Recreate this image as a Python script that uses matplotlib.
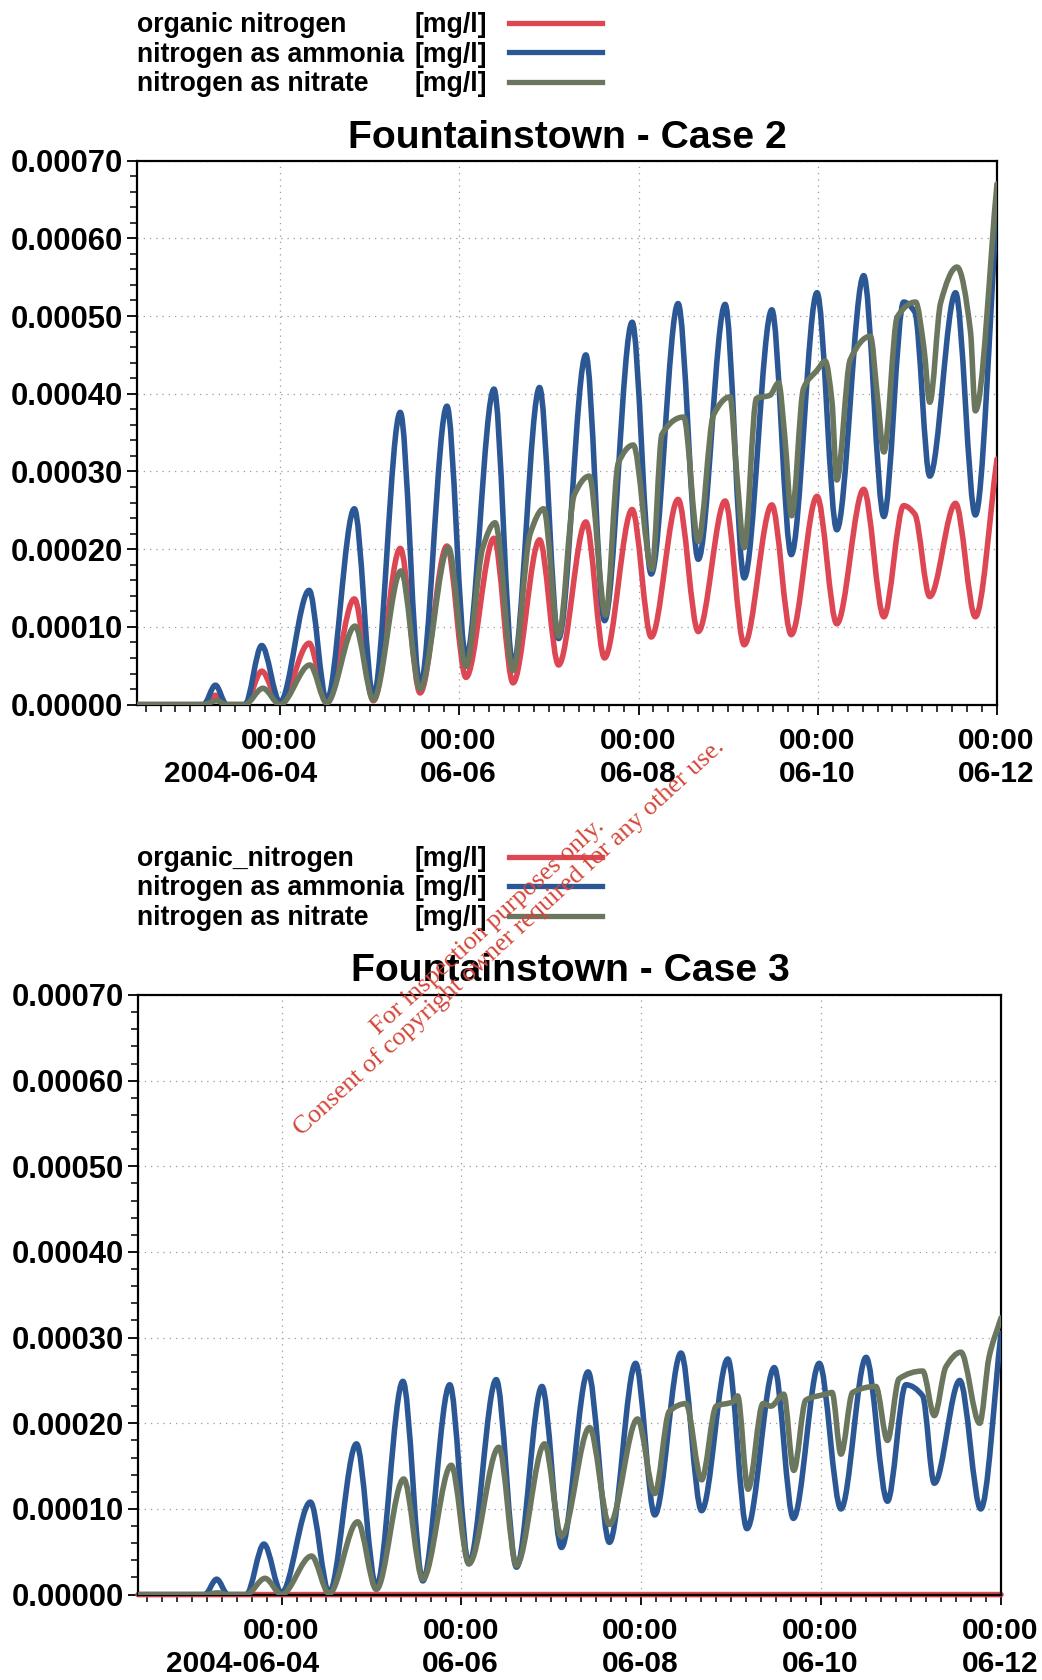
import numpy as np
import matplotlib
matplotlib.use("Agg")
import matplotlib.pyplot as plt
import matplotlib.dates as mdates
from matplotlib.path import Path
from matplotlib.patches import PathPatch
from matplotlib.lines import Line2D
from matplotlib.ticker import MultipleLocator, FormatStrFormatter
from matplotlib.transforms import ScaledTranslation

plt.rcParams["font.family"] = ["Liberation Sans", "DejaVu Sans"]

# ---------------------------------------------------------------- data
# Times are hours relative to 2004-06-04 00:00, concentrations in mg/l.
BASE_TIME = np.datetime64("2004-06-04T00:00")
X_START_HOURS = -38.3
X_END_HOURS = 192.0

case2_organic_hours = [-38.3, -20.5, -17.3, -14.3, -9.4, -4.9, 0.0, 7.8, 12.5, 19.9, 25.0, 32.2,
                       37.5, 44.7, 49.8, 57.3, 62.4, 69.5, 74.6, 81.9, 86.9, 94.3, 99.4, 106.6,
                       112.0, 119.2, 124.3, 131.7, 136.9, 143.8, 149.1, 156.3, 161.7, 167.0,
                       170.0, 174.0, 180.9, 186.2, 192.0]
case2_organic_mgl = [0, 0, 1.2e-5, 0, 0, 4.3e-5, 0, 7.9e-5, 2e-6, 1.36e-4, 5e-6, 2.01e-4,
                     1.5e-5, 2.04e-4, 3.5e-5, 2.14e-4, 2.8e-5, 2.12e-4, 5.1e-5, 2.35e-4, 6.0e-5,
                     2.51e-4, 8.7e-5, 2.64e-4, 9.4e-5, 2.62e-4, 7.7e-5, 2.57e-4, 9.0e-5, 2.68e-4,
                     1.04e-4, 2.77e-4, 1.13e-4, 2.56e-4, 2.45e-4, 1.39e-4, 2.59e-4, 1.13e-4,
                     3.16e-4]

case2_ammonia_hours = [-38.3, -20.5, -17.3, -14.3, -9.4, -4.9, 0.0, 7.8, 12.5, 19.9, 25.0, 32.2,
                       37.5, 44.7, 49.8, 57.3, 62.4, 69.5, 74.6, 81.9, 86.9, 94.3, 99.4, 106.6,
                       112.0, 119.2, 124.3, 131.7, 136.9, 143.8, 149.1, 156.3, 161.7, 167.0,
                       170.0, 174.0, 180.9, 186.2, 192.0]
case2_ammonia_mgl = [0, 0, 2.5e-5, 0, 0, 7.6e-5, 3e-6, 1.47e-4, 5e-6, 2.52e-4, 1.0e-5, 3.76e-4,
                     2.4e-5, 3.84e-4, 6.0e-5, 4.06e-4, 4.9e-5, 4.08e-4, 8.5e-5, 4.50e-4, 1.08e-4,
                     4.92e-4, 1.68e-4, 5.16e-4, 1.87e-4, 5.15e-4, 1.63e-4, 5.08e-4, 1.93e-4,
                     5.30e-4, 2.25e-4, 5.52e-4, 2.42e-4, 5.18e-4, 5.05e-4, 2.94e-4, 5.30e-4,
                     2.44e-4, 6.40e-4]

case2_nitrate_hours = [-38.3, -20.5, -17.0, -14.3, -9.4, -4.6, 0.0, 8.0, 12.5, 20.1, 25.0, 32.4,
                       37.5, 45.1, 49.8, 54.3, 57.6, 62.4, 67.0, 70.6, 74.6, 78.8, 82.8, 87.2,
                       90.6, 94.6, 99.6, 102.3, 108.1, 112.0, 116.1, 120.5, 122.3, 124.3, 127.6,
                       131.2, 133.5, 135.2, 137.0, 140.2, 143.8, 146.0, 147.8, 149.1, 152.7,
                       158.1, 159.9, 161.7, 165.3, 170.2, 172.4, 174.0, 176.9, 181.3, 184.9,
                       186.2, 192.0]
case2_nitrate_mgl = [0, 0, 5e-6, 0, 0, 2.1e-5, 0, 5.1e-5, 2e-6, 1.01e-4, 6e-6, 1.72e-4,
                     2.0e-5, 2.02e-4, 4.9e-5, 2.02e-4, 2.34e-4, 4.4e-5, 2.20e-4, 2.52e-4, 8.8e-5,
                     2.70e-4, 2.94e-4, 1.15e-4, 3.11e-4, 3.34e-4, 1.74e-4, 3.48e-4, 3.70e-4,
                     2.10e-4, 3.73e-4, 3.96e-4, 2.98e-4, 2.02e-4, 3.94e-4, 3.98e-4, 4.14e-4,
                     3.43e-4, 2.43e-4, 4.07e-4, 4.30e-4, 4.42e-4, 3.90e-4, 2.89e-4, 4.44e-4,
                     4.74e-4, 4.00e-4, 3.25e-4, 4.99e-4, 5.18e-4, 4.60e-4, 3.89e-4, 5.17e-4,
                     5.63e-4, 4.80e-4, 3.78e-4, 6.70e-4]

case3_organic_hours = [-38.3, 192.0]
case3_organic_mgl = [0, 0]

case3_ammonia_hours = [-38.3, -20.5, -17.3, -14.3, -9.4, -4.7, 0.0, 7.7, 12.7, 20.0, 25.3, 32.4,
                       37.7, 44.9, 50.0, 57.3, 62.7, 69.5, 74.7, 81.8, 87.5, 94.5, 99.6, 106.6,
                       112.1, 119.1, 124.2, 131.5, 136.6, 143.5, 149.3, 156.0, 161.7, 166.6,
                       171.1, 174.2, 181.0, 186.6, 192.0]
case3_ammonia_mgl = [0, 0, 1.8e-5, 0, 0, 5.9e-5, 2e-6, 1.08e-4, 2e-6, 1.76e-4, 9e-6, 2.49e-4,
                     1.6e-5, 2.45e-4, 3.6e-5, 2.51e-4, 3.2e-5, 2.43e-4, 5.5e-5, 2.60e-4, 6.1e-5,
                     2.70e-4, 9.3e-5, 2.82e-4, 9.8e-5, 2.75e-4, 7.7e-5, 2.65e-4, 8.9e-5, 2.70e-4,
                     1.00e-4, 2.77e-4, 1.09e-4, 2.45e-4, 2.32e-4, 1.30e-4, 2.50e-4, 1.00e-4,
                     3.05e-4]

case3_nitrate_hours = [-38.3, -20.5, -17.0, -14.3, -9.4, -4.4, 0.0, 8.0, 12.7, 20.3, 25.3, 32.6,
                       37.7, 45.3, 50.0, 58.0, 62.7, 70.2, 74.7, 82.2, 87.5, 95.0, 99.6, 103.5,
                       107.9, 112.1, 116.0, 120.4, 121.7, 124.5, 128.5, 130.6, 134.0, 136.7,
                       139.9, 145.2, 146.9, 149.3, 152.4, 158.6, 161.7, 164.8, 171.1, 174.2,
                       177.3, 181.3, 186.3, 188.8, 192.0]
case3_nitrate_mgl = [0, 0, 2e-6, 0, 0, 1.9e-5, 0, 4.5e-5, 1e-6, 8.5e-5, 6e-6, 1.35e-4,
                     1.8e-5, 1.51e-4, 3.6e-5, 1.72e-4, 3.4e-5, 1.76e-4, 6.8e-5, 1.95e-4, 8.2e-5,
                     2.05e-4, 1.18e-4, 2.14e-4, 2.23e-4, 1.34e-4, 2.20e-4, 2.25e-4, 2.32e-4,
                     1.23e-4, 2.23e-4, 2.20e-4, 2.34e-4, 1.45e-4, 2.27e-4, 2.34e-4, 2.36e-4,
                     1.64e-4, 2.36e-4, 2.43e-4, 1.80e-4, 2.52e-4, 2.61e-4, 2.09e-4, 2.66e-4,
                     2.83e-4, 2.00e-4, 2.77e-4, 3.23e-4]

SERIES_NAMES_CASE2 = ["organic nitrogen", "nitrogen as ammonia", "nitrogen as nitrate"]
SERIES_NAMES_CASE3 = ["organic_nitrogen", "nitrogen as ammonia", "nitrogen as nitrate"]
UNIT = "[mg/l]"
TITLES = ["Fountainstown - Case 2", "Fountainstown - Case 3"]

TICK_DATES = ["2004-06-04", "2004-06-06", "2004-06-08", "2004-06-10", "2004-06-12"]
TICK_LABELS = ["00:00\n2004-06-04", "00:00\n06-06", "00:00\n06-08", "00:00\n06-10", "00:00\n06-12"]

# ---------------------------------------------------------------- style
W, H, DPI = 1042, 1680, 100
COLORS = ["#dc4753", "#2b5895", "#6a765d"]
LINE_W = 4.0
BOLD = "bold"


def fx(px):
    return px / W


def fy(py):
    return 1.0 - py / H


def to_datenum(hours):
    base = mdates.date2num(BASE_TIME)
    return base + np.asarray(hours, dtype=float) / 24.0


def smooth_curve(ax, hours, values, color, zorder, clip=True):
    """Piecewise cubic (shape preserving) Bezier path through the samples."""
    x = to_datenum(hours)
    y = np.asarray(values, dtype=float)
    h = np.diff(x)
    d = np.diff(y) / h
    m = np.zeros_like(y)
    m[0], m[-1] = d[0], d[-1]
    for k in range(1, len(y) - 1):
        if d[k - 1] * d[k] > 0:
            w1 = 2 * h[k] + h[k - 1]
            w2 = h[k] + 2 * h[k - 1]
            m[k] = (w1 + w2) / (w1 / d[k - 1] + w2 / d[k])
    verts = [(x[0], y[0])]
    codes = [Path.MOVETO]
    for k in range(len(h)):
        s = h[k] / 3.0
        verts += [(x[k] + s, y[k] + m[k] * s),
                  (x[k + 1] - s, y[k + 1] - m[k + 1] * s),
                  (x[k + 1], y[k + 1])]
        codes += [Path.CURVE4] * 3
    patch = PathPatch(Path(verts, codes), fill=False, edgecolor=color, lw=LINE_W,
                      capstyle="round", joinstyle="round", zorder=zorder)
    patch.set_clip_on(clip)
    ax.add_patch(patch)


def style_axes(ax):
    ax.set_xlim(to_datenum([X_START_HOURS, X_END_HOURS]))
    ax.set_ylim(0, 0.0007)
    ax.yaxis.set_major_locator(MultipleLocator(0.0001))
    ax.yaxis.set_minor_locator(MultipleLocator(0.00002))
    ax.yaxis.set_major_formatter(FormatStrFormatter("%.5f"))
    tick_pos = mdates.date2num(np.array(TICK_DATES, dtype="datetime64[m]"))
    ax.set_xticks(tick_pos, TICK_LABELS)
    ax.xaxis.set_minor_locator(mdates.HourLocator(byhour=range(0, 24, 4)))
    ax.tick_params(axis="both", which="major", direction="out", length=7, width=1.3,
                   colors="black")
    ax.tick_params(axis="both", which="minor", direction="out", length=5, width=1.1)
    ax.tick_params(axis="y", pad=3, labelsize=22.3)
    ax.tick_params(axis="x", pad=9, labelsize=21.5)
    for lab in ax.get_yticklabels():
        lab.set_fontweight(BOLD)
    shift = ScaledTranslation(37.5 / DPI, 0, ax.figure.dpi_scale_trans)
    for lab in ax.get_xticklabels():
        lab.set_fontweight(BOLD)
        lab.set_ha("right")
        lab.set_multialignment("right")
        lab.set_linespacing(1.24)
        lab.set_transform(lab.get_transform() + shift)
    ax.grid(True, which="major", color="#9a9a9a", linestyle=(0, (1, 4)), lw=0.9)
    for sp in ax.spines.values():
        sp.set_linewidth(1.6)
        sp.set_color("black")


def legend_block(names, rows_y, line_y):
    for name, color, yb, yl in zip(names, COLORS, rows_y, line_y):
        fig.text(fx(137), fy(yb), name, fontsize=19.2, fontweight=BOLD, va="baseline", ha="left")
        fig.text(fx(415), fy(yb), UNIT, fontsize=19.2, fontweight=BOLD, va="baseline", ha="left")
        fig.add_artist(Line2D([fx(509), fx(602)], [fy(yl), fy(yl)], color=color, lw=3.8,
                              transform=fig.transFigure))


fig = plt.figure(figsize=(W / DPI, H / DPI), dpi=DPI, facecolor="white")

# ---------------------------------------------------------------- Case 2
ax1 = fig.add_axes([fx(137), fy(704.6), fx(860), 544 / H])
smooth_curve(ax1, case2_organic_hours, case2_organic_mgl, COLORS[0], 3)
smooth_curve(ax1, case2_ammonia_hours, case2_ammonia_mgl, COLORS[1], 4)
smooth_curve(ax1, case2_nitrate_hours, case2_nitrate_mgl, COLORS[2], 5)
style_axes(ax1)
legend_block(SERIES_NAMES_CASE2, [32, 61.5, 91], [22.8, 52.2, 81.7])
fig.text(fx(567), fy(148), TITLES[0], fontsize=28.2, fontweight=BOLD, ha="center", va="baseline")

# ---------------------------------------------------------------- Case 3
ax2 = fig.add_axes([fx(138), fy(1594.6), fx(863), 599.6 / H])
smooth_curve(ax2, case3_organic_hours, case3_organic_mgl, COLORS[0], 2.4, clip=False)
smooth_curve(ax2, case3_ammonia_hours, case3_ammonia_mgl, COLORS[1], 4)
smooth_curve(ax2, case3_nitrate_hours, case3_nitrate_mgl, COLORS[2], 5)
style_axes(ax2)
legend_block(SERIES_NAMES_CASE3, [866, 895, 925], [857, 886, 916])
fig.text(fx(570), fy(981), TITLES[1], fontsize=28.2, fontweight=BOLD, ha="center", va="baseline")

# ---------------------------------------------------------------- stamp
stamp = dict(family=["Liberation Serif", "DejaVu Serif"], color="#d4463a", fontsize=18.8,
             rotation=42.5, rotation_mode="anchor", ha="center", va="center")
fig.text(fx(488), fy(927), "For inspection purposes only.", **stamp)
fig.text(fx(509), fy(937), "Consent of copyright owner required for any other use.", **stamp)

fig.savefig("out.png", dpi=DPI, facecolor="white")
